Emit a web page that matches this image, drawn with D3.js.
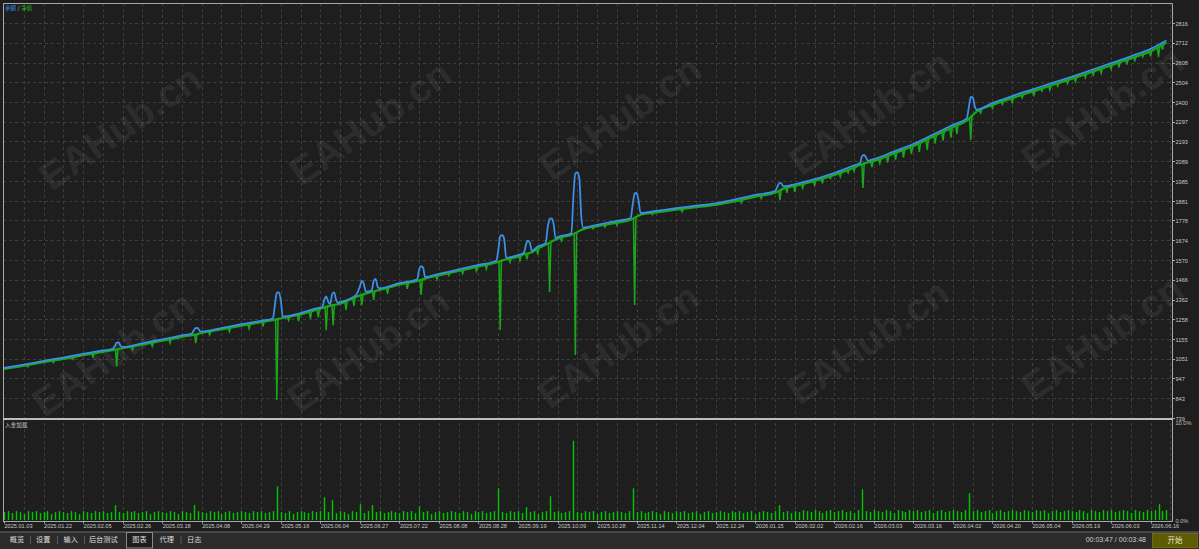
<!DOCTYPE html>
<html><head><meta charset="utf-8">
<script src="https://cdn.jsdelivr.net/npm/d3@7/dist/d3.min.js"></script>
<style>
html,body{margin:0;padding:0;background:#1e1e1e;overflow:hidden}
svg{display:block}
text{font-family:"Liberation Sans",Arial,sans-serif}
.cjk{font-family:"Noto Sans CJK SC","Liberation Sans",sans-serif}
</style></head><body>
<svg id="c" width="1199" height="549"></svg>
<script>
// ---------- DATA ----------
const yTickValues = [739,843,947,1051,1155,1258,1362,1466,1570,1674,1778,1881,1985,2089,2193,2297,2400,2504,2608,2712,2816];
const dateLabels = ["2025.01.03","2025.01.22","2025.02.05","2025.02.26","2025.03.18","2025.04.08","2025.04.29","2025.05.16","2025.06.04","2025.06.27","2025.07.22","2025.08.08","2025.08.28","2025.09.19","2025.10.09","2025.10.28","2025.11.14","2025.12.04","2025.12.24","2026.01.15","2026.02.02","2026.02.16","2026.03.03","2026.03.16","2026.04.02","2026.04.20","2026.05.04","2026.05.19","2026.06.03","2026.06.16"];
const dateBars = [0,20,40,60,80,100,120,140,160,180,200,220,240,260,280,300,320,340,360,380,400,420,440,460,480,500,520,540,560,580];
const loadTicks = ["10.0%","0.0%"];
const legendNames = ["余额","净值"];
const panelName = "入金加载";
const tabs = ["概览","设置","输入","后台测试","图表","代理","日志"];
const timeText = "00:03:47 / 00:03:48";
const buttonText = "开始";
const watermark = "EAHub.cn";

// balance: [bar index, value]
const balance = [[0,1002],[10,1020],[20,1039],[30,1057],[40,1076],[50,1094],[55,1103],[56,1115],[57,1135],[58,1136],[59,1118],[60,1112],[70,1132],[80,1152],[90,1173],[95,1183],[96,1200],[97,1212],[98,1213],[99,1196],[100,1193],[110,1212],[120,1232],[130,1250],[136,1262],[137,1330],[138,1398],[139,1400],[140,1360],[141,1272],[150,1291],[158,1316],[161,1322],[162,1360],[163,1378],[164,1350],[165,1338],[166,1390],[167,1400],[168,1360],[169,1345],[170,1348],[178,1385],[180,1430],[181,1460],[182,1445],[183,1403],[186,1410],[187,1460],[188,1470],[189,1428],[190,1421],[200,1448],[209,1468],[210,1520],[211,1537],[212,1530],[213,1480],[220,1497],[230,1520],[240,1544],[249,1566],[250,1620],[251,1695],[252,1700],[253,1680],[254,1582],[260,1595],[263,1608],[264,1650],[265,1672],[266,1660],[267,1618],[270,1640],[274,1658],[275,1740],[276,1785],[277,1789],[278,1760],[279,1685],[280,1690],[287,1710],[288,1900],[289,2025],[290,2030],[291,2000],[292,1800],[293,1740],[300,1755],[310,1775],[317,1790],[318,1860],[319,1920],[320,1922],[321,1880],[322,1817],[330,1828],[340,1842],[350,1855],[360,1868],[370,1888],[380,1912],[390,1932],[391,1950],[392,1972],[393,1975],[394,1960],[395,1958],[400,1968],[410,1995],[420,2027],[430,2067],[433,2080],[434,2115],[435,2122],[436,2110],[437,2092],[440,2100],[450,2140],[460,2180],[470,2230],[480,2280],[487,2315],[488,2370],[489,2427],[490,2425],[491,2380],[492,2360],[500,2395],[510,2432],[520,2466],[530,2500],[540,2533],[550,2568],[560,2605],[570,2641],[580,2680],[588,2724]];

// equity: [bar index, value]
const equity = [[0,997],[10,1014],[20,1033],[30,1050],[40,1069],[50,1087],[55,1096],[60,1106],[70,1125],[80,1145],[90,1166],[96,1176],[100,1186],[110,1205],[120,1224],[130,1243],[136,1254],[141,1265],[150,1283],[158,1307],[165,1330],[170,1340],[178,1376],[186,1402],[190,1412],[200,1440],[209,1460],[213,1472],[220,1489],[230,1512],[240,1536],[249,1557],[254,1574],[260,1587],[263,1600],[267,1610],[270,1631],[274,1650],[279,1677],[280,1682],[287,1702],[293,1732],[300,1747],[310,1766],[317,1781],[322,1808],[330,1820],[340,1834],[350,1847],[360,1860],[370,1879],[380,1903],[390,1923],[395,1949],[400,1959],[410,1985],[420,2017],[430,2056],[433,2070],[437,2083],[440,2090],[450,2130],[460,2169],[470,2219],[480,2268],[487,2303],[492,2350],[500,2385],[510,2421],[520,2455],[530,2489],[540,2522],[550,2557],[560,2594],[570,2630],[580,2668],[588,2713]];

// equity drawdown lows: [bar index, low value]
const equityLows = [[12,1008],[25,1030],[35,1048],[45,1060],[57,1012],[65,1098],[75,1116],[84,1133],[97,1133],[104,1176],[114,1193],[124,1208],[131,1220],[138,834],[144,1252],[149,1248],[155,1262],[159,1268],[163,1200],[166.5,1225],[173,1308],[177,1328],[181,1333],[187,1360],[194,1392],[204,1418],[211,1386],[219,1468],[225,1488],[232,1498],[239,1512],[244,1523],[251,1202],[256,1558],[261,1568],[264.5,1575],[270,1598],[276,1401],[282,1670],[289,1070],[298,1733],[304,1743],[310,1753],[319,1333],[328,1808],[343,1823],[373,1870],[383,1893],[392.5,1885],[396,1923],[400,1928],[404,1948],[410,1963],[414,1973],[418,1998],[423,2008],[427,2028],[430,2038],[434.5,1948],[439,2058],[443,2078],[447,2083],[451,2098],[455,2108],[459,2128],[463,2138],[467,2148],[471,2183],[475,2198],[479,2213],[482,2233],[489,2201],[494,2343],[500,2368],[505,2388],[510,2398],[515,2423],[521,2438],[525,2458],[529,2463],[533,2483],[538,2498],[542,2508],[547,2528],[551,2543],[555,2553],[560,2573],[564,2583],[568,2598],[572,2618],[576,2638],[580,2640],[584,2637],[586,2676]];

// deposit load (%), one value every 2 bars starting at bar 0
const loadValues = [
0.8,0.9,0.7,0.9,0.8,0.6,0.9,0.8,0.9,0.7,0.8,0.9,0.6,0.8,0.9,0.8,0.7,0.9,0.8,0.6,
0.9,0.8,0.7,0.9,0.8,0.9,0.7,0.8,1.5,0.8,0.7,0.9,0.8,0.9,0.7,0.8,0.9,0.6,0.8,0.9,
0.8,0.7,0.9,0.8,0.6,0.9,0.8,0.7,1.5,0.9,0.8,0.7,0.9,0.8,0.9,0.6,0.8,0.9,0.7,0.8,
0.9,0.8,0.7,0.9,0.8,0.9,0.7,0.8,0.9,3.4,0.8,0.7,0.9,0.6,0.8,0.9,0.8,0.7,0.9,0.8,
0.9,2.3,0.8,2.0,0.7,0.9,0.8,0.6,0.9,0.8,1.6,0.7,0.9,1.5,0.8,0.9,0.7,0.8,0.9,0.8,
0.7,0.9,0.8,0.9,0.7,1.4,0.8,0.9,0.6,0.8,0.9,0.7,0.8,0.9,0.8,0.7,0.9,0.8,0.6,0.9,
0.8,0.9,0.7,0.8,0.9,3.2,0.8,0.7,0.9,0.8,0.9,0.7,1.3,0.8,0.9,0.6,0.8,0.9,2.4,0.8,
0.9,0.7,0.8,0.9,8.0,0.8,0.7,0.9,0.8,0.9,0.6,0.8,0.9,0.7,0.8,0.9,0.8,0.7,0.9,3.2,
0.8,0.9,0.7,0.8,0.9,0.8,0.6,0.9,0.8,0.7,0.9,0.8,0.9,0.7,0.8,0.9,0.6,0.8,0.9,0.7,
0.8,0.9,0.8,0.7,0.9,0.8,0.9,0.7,0.8,0.9,0.6,0.8,0.9,0.8,0.7,0.9,1.5,0.8,0.9,0.7,
0.9,0.8,1.0,0.9,0.8,1.0,0.9,0.7,0.9,1.0,0.8,0.9,1.0,0.8,0.9,0.7,1.0,3.1,0.9,0.8,
1.0,0.9,0.8,1.0,0.9,0.7,1.0,0.9,0.8,1.0,0.9,1.0,0.8,0.9,1.0,0.7,0.9,1.0,0.8,0.9,
1.0,0.9,0.8,1.0,2.7,0.9,1.0,0.8,0.9,1.0,0.7,0.9,1.0,0.8,0.9,1.0,0.9,0.8,1.0,0.9,
0.8,1.0,0.9,1.0,0.7,0.9,1.0,0.8,0.9,1.0,0.9,0.8,1.0,0.9,0.7,1.0,0.9,0.8,1.0,0.9,
1.0,0.8,0.9,1.0,0.9,0.7,1.0,0.9,0.8,1.0,0.9,1.0,1.6,0.9,1.0];

// ---------- DRAW ----------
(function(){
const W = 1199, H = 549;
const C = {bg:"#1e1e1e", grid:"#3e3e3e", frame:"#a8a8a8", txt:"#c8c8c8", blue:"#3b8fe4", green:"#1aa81a", bar:"#00c800"};
const svg = d3.select("#c");
svg.append("rect").attr("width",W).attr("height",H).attr("fill",C.bg);

const pL = 3, pR = 1172, pT = 3, sep = 419, lowBottom = 521;
const x = d3.scaleLinear().domain([0,590]).range([4,1170.4]);
const y = d3.scaleLinear().domain([739,2816]).range([418,23]);
const yl = d3.scaleLinear().domain([0,10]).range([520,421]);

// grid
const gGrid = svg.append("g");
gGrid.selectAll("line.h").data(yTickValues.slice(1)).join("line")
  .attr("x1",pL).attr("x2",pR).attr("y1",d=>Math.round(y(d))+0.5).attr("y2",d=>Math.round(y(d))+0.5)
  .attr("stroke",C.grid).attr("stroke-dasharray","3,3");
const vBars = d3.range(10,591,10);
gGrid.selectAll("line.v").data(vBars).join("line")
  .attr("x1",d=>Math.round(x(d))+0.5).attr("x2",d=>Math.round(x(d))+0.5)
  .attr("y1",pT).attr("y2",lowBottom)
  .attr("stroke",C.grid).attr("stroke-dasharray","3,3");

// watermark
const wmPos = [[122,130],[372,125],[622,120],[872,115],[1104,112],[115,356],[370,352],[620,348],[870,344],[1104,340]];
svg.append("g").selectAll("text").data(wmPos).join("text")
  .attr("transform",d=>`translate(${d[0]},${d[1]}) rotate(-35)`)
  .attr("text-anchor","middle").attr("dominant-baseline","middle")
  .attr("font-size",39).attr("font-weight","bold")
  .attr("fill","rgba(255,255,255,0.085)").text(watermark);

// equity line
const line = d3.line().x(d=>x(d[0])).y(d=>y(d[1])).curve(d3.curveMonotoneX);
const eqAt = i => {
  const k = d3.bisector(d=>d[0]).left(equity,i);
  if (k<=0) return equity[0][1];
  if (k>=equity.length) return equity[equity.length-1][1];
  const a=equity[k-1], b=equity[k];
  return a[1]+(b[1]-a[1])*(i-a[0])/(b[0]-a[0]);
};
svg.append("g").selectAll("path").data(equityLows).join("path")
  .attr("d",d=>`M${x(d[0]-0.6)},${y(eqAt(d[0]-0.6))}L${x(d[0])},${y(d[1])}L${x(d[0]+0.6)},${y(eqAt(d[0]+0.6))}`)
  .attr("fill","none").attr("stroke",C.green).attr("stroke-width",1.5);
svg.append("path").datum(equity).attr("d",line).attr("fill","none")
  .attr("stroke",C.green).attr("stroke-width",2.2);
svg.append("path").datum(balance).attr("d",line).attr("fill","none")
  .attr("stroke",C.blue).attr("stroke-width",1.8);

// load bars
svg.append("g").selectAll("line").data(loadValues).join("line")
  .attr("x1",(d,i)=>Math.round(x(i*2))+0.5).attr("x2",(d,i)=>Math.round(x(i*2))+0.5)
  .attr("y1",yl(0)).attr("y2",d=>yl(d))
  .attr("stroke",C.bar).attr("stroke-width",1.4);

// frame
svg.append("path").attr("d",`M${pL+0.5},${lowBottom}V${pT+0.5}H${pR+0.5}V${lowBottom+0.5}H${pL}`)
  .attr("fill","none").attr("stroke",C.frame).attr("stroke-width",1);
svg.append("line").attr("x1",pL).attr("x2",pR+1).attr("y1",sep).attr("y2",sep)
  .attr("stroke","#bdbdbd").attr("stroke-width",2);

// right axis
const gY = svg.append("g");
gY.selectAll("line").data(yTickValues).join("line")
  .attr("x1",pR).attr("x2",pR+3).attr("y1",d=>Math.round(y(d))+0.5).attr("y2",d=>Math.round(y(d))+0.5)
  .attr("stroke",C.frame);
gY.selectAll("text").data(yTickValues).join("text")
  .attr("x",pR+3.5).attr("y",d=>y(d)+1.2).attr("dominant-baseline","middle")
  .attr("font-size",5.6).attr("fill",C.txt).text(d=>d);
svg.append("g").selectAll("text").data(loadTicks).join("text")
  .attr("x",pR+3.5).attr("y",(d,i)=>i===0?424:521.5).attr("dominant-baseline","middle")
  .attr("font-size",5.6).attr("fill","#cdbfa8").text(d=>d);

// date axis
const gX = svg.append("g");
gX.selectAll("line").data(dateBars).join("line")
  .attr("x1",d=>Math.round(x(d))+0.5).attr("x2",d=>Math.round(x(d))+0.5)
  .attr("y1",lowBottom).attr("y2",lowBottom+2.5).attr("stroke",C.frame);
gX.selectAll("text").data(dateLabels).join("text")
  .attr("x",(d,i)=>x(dateBars[i])+0.5).attr("y",526.5).attr("dominant-baseline","middle")
  .attr("font-size",5.6).attr("fill",C.txt).text(d=>d);

// legend
const lg = svg.append("text").attr("class","cjk").attr("x",5).attr("y",8).attr("dominant-baseline","middle").attr("font-size",5.6);
lg.append("tspan").attr("fill",C.blue).text(legendNames[0]);
lg.append("tspan").attr("fill","#bbbbbb").text(" / ");
lg.append("tspan").attr("fill","#22c022").text(legendNames[1]);
svg.append("text").attr("class","cjk").attr("x",5).attr("y",425).attr("dominant-baseline","middle")
  .attr("font-size",5.6).attr("fill",C.txt).text(panelName);

// bottom tab bar
svg.append("rect").attr("x",0).attr("y",532).attr("width",W).attr("height",17).attr("fill","#2b2b2b");
svg.append("line").attr("x1",0).attr("x2",W).attr("y1",532).attr("y2",532).attr("stroke","#6a6a6a");
const tabX = [17,43.3,70.7,103.3,139.5,166.7,194.3];
const sepX = [30.5,57.5,84.5,181];
svg.append("rect").attr("x",126.5).attr("y",532.5).attr("width",26).attr("height",15.5)
  .attr("fill","#1e1e1e").attr("stroke","#8a8a8a");
svg.append("g").selectAll("line").data(sepX).join("line")
  .attr("x1",d=>d).attr("x2",d=>d).attr("y1",536).attr("y2",544).attr("stroke","#5a5a5a");
svg.append("g").selectAll("text").data(tabs).join("text").attr("class","cjk")
  .attr("x",(d,i)=>tabX[i]).attr("y",540).attr("text-anchor","middle").attr("dominant-baseline","middle")
  .attr("font-size",7.2).attr("fill","#dcdcdc").text(d=>d);
svg.append("text").attr("x",1146).attr("y",540.5).attr("text-anchor","end").attr("dominant-baseline","middle")
  .attr("font-size",7).attr("fill","#cfcfcf").text(timeText);
svg.append("rect").attr("x",1152.5).attr("y",533.5).attr("width",45).attr("height",14)
  .attr("fill","#5e5b05").attr("stroke","#6e6b10");
svg.append("text").attr("class","cjk").attr("x",1175).attr("y",540.5).attr("text-anchor","middle").attr("dominant-baseline","middle")
  .attr("font-size",7.5).attr("fill","#e6e6c8").text(buttonText);
})();
</script>
</body></html>
